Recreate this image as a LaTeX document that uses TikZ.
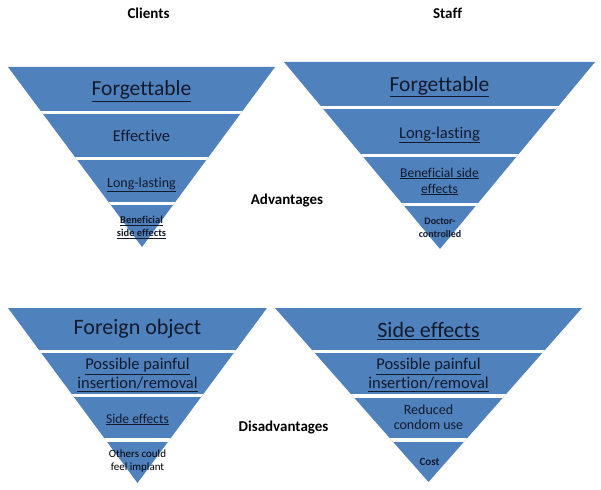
\documentclass[tikz,border=0pt]{standalone}
\usepackage{fontspec}
\setmainfont[Ligatures=NoCommon]{Carlito}
\definecolor{pyr}{HTML}{4F81BD}
\definecolor{ink}{HTML}{121A2C}
\newcommand\fs[2]{\fontsize{#1}{#2}\selectfont}
\newcommand\ul[1]{\underline{#1}}
\tikzset{
  bandtext/.style={text=ink, align=center, inner sep=0pt},
  heading/.style={text=black, inner sep=0pt, font=\fs{15}{18}\bfseries},
  gapbar/.style={fill=white}
}
\begin{document}
\begin{tikzpicture}[x=1pt,y=-1pt]
\useasboundingbox (0,0) rectangle (601,489);
\fill[white] (0,0) rectangle (601,489);

% Pyramid 1 (clients advantages)
\begin{scope}
\clip (8,67) -- (275,67) -- (142,247) -- cycle;
\fill[pyr] (0,60) rectangle (300,250);
\foreach \g in {112.5,158.5,203} \fill[gapbar] (0,\g-1.5) rectangle (300,\g+1.5);
\end{scope}
% Pyramid 2 (staff advantages)
\begin{scope}
\clip (284,62) -- (595,62) -- (440,249) -- cycle;
\fill[pyr] (280,55) rectangle (601,252);
\foreach \g in {108,155.5,204.5} \fill[gapbar] (280,\g-1.5) rectangle (601,\g+1.5);
\end{scope}
% Pyramid 3 (clients disadvantages)
\begin{scope}
\clip (8,308) -- (267,308) -- (137.5,483) -- cycle;
\fill[pyr] (0,300) rectangle (280,489);
\foreach \g in {351.5,395.5,440} \fill[gapbar] (0,\g-1.6) rectangle (280,\g+1.6);
\end{scope}
% Pyramid 4 (staff disadvantages)
\begin{scope}
\clip (275,308) -- (582,308) -- (428.5,482) -- cycle;
\fill[pyr] (270,300) rectangle (601,489);
\foreach \g in {351.5,396,440} \fill[gapbar] (270,\g-1.6) rectangle (601,\g+1.6);
\end{scope}

% headings
\node[heading] (hcl) at (148.5,13) {Clients};
\node[heading] (hst) at (447.5,13) {Staff};
\node[heading] (hadv) at (287,201) {Advantages};
\node[heading] (hdis) at (283.5,428) {Disadvantages};

% pyramid 1 texts
\node[bandtext, font=\fs{21.5}{24}] (a1) at (141.5,91) {\ul{Forgettable}};
\node[bandtext, font=\fs{16.5}{19}] (a2) at (141.5,136) {Effective};
\node[bandtext, font=\fs{14}{16}] (a3) at (141.5,184.5) {\ul{Long-lasting}};
\node[bandtext, font=\fs{10.5}{13}\bfseries] (a4) at (141.5,227.5) {\ul{Beneficial}\\\ul{side effects}};

% pyramid 2 texts
\node[bandtext, font=\fs{21.5}{24}] (b1) at (439.5,86.5) {\ul{Forgettable}};
\node[bandtext, font=\fs{16.5}{19}] (b2) at (439.5,135) {\ul{Long-lasting}};
\node[bandtext, font=\fs{13.5}{16}] (b3) at (439.5,181.5) {\ul{Beneficial side}\\\ul{effects}};
\node[bandtext, font=\fs{10}{13}\bfseries] (b4) at (440,227.5) {Doctor-\\controlled};

% pyramid 3 texts
\node[bandtext, font=\fs{22}{25}] (c1) at (137.5,329) {Foreign object};
\node[bandtext, font=\fs{16.5}{19}] (c2) at (137.5,375) {\ul{Possible painful}\\\ul{insertion/removal}};
\node[bandtext, font=\fs{13.5}{16}] (c3) at (137.5,419.5) {\ul{Side effects}};
\node[bandtext, text=black, font=\fs{11}{13}] (c4) at (137.5,461.5) {Others could\\feel implant};

% pyramid 4 texts
\node[bandtext, font=\fs{22}{25}] (d1) at (428.5,331) {\ul{Side effects}};
\node[bandtext, font=\fs{16.5}{19}] (d2) at (428.5,375) {\ul{Possible painful}\\\ul{insertion/removal}};
\node[bandtext, font=\fs{14}{15}] (d3) at (428.5,417.5) {Reduced\\condom use};
\node[bandtext, font=\fs{11}{13}\bfseries] (d4) at (429.5,462) {Cost};
\end{tikzpicture}
\end{document}
